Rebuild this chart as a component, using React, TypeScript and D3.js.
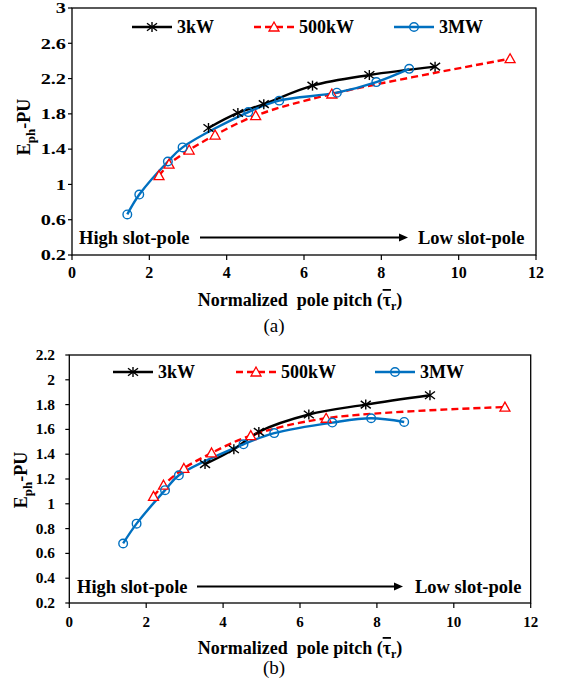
import React from "react";
import * as d3 from "d3";

// Axis ticks
const xTicks = [0, 2, 4, 6, 8, 10, 12];
const yTicksA = [0.2, 0.6, 1, 1.4, 1.8, 2.2, 2.6, 3];
const yTicksB = [0.2, 0.4, 0.6, 0.8, 1, 1.2, 1.4, 1.6, 1.8, 2, 2.2];

// Series names
const seriesNames = ["3kW", "500kW", "3MW"];

// Panel (a)
const kw3AX = [3.53, 4.29, 4.96, 6.22, 7.69, 9.39];
const kw3AY = [1.64, 1.81, 1.91, 2.12, 2.24, 2.335];
const kw500AX = [2.25, 2.51, 3.03, 3.7, 4.75, 6.72, 11.33];
const kw500AY = [1.1, 1.23, 1.39, 1.56, 1.78, 2.025, 2.425];
const mw3AX = [1.43, 1.74, 2.48, 2.86, 4.56, 5.36, 6.85, 7.87, 8.72];
const mw3AY = [0.66, 0.885, 1.26, 1.42, 1.82, 1.95, 2.04, 2.16, 2.31];

// Panel (b)
const kw3BX = [3.53, 4.28, 4.93, 6.23, 7.71, 9.38];
const kw3BY = [1.32, 1.44, 1.58, 1.72, 1.8, 1.875];
const kw500BX = [2.19, 2.45, 2.98, 3.7, 4.72, 6.68, 11.33];
const kw500BY = [1.06, 1.15, 1.285, 1.41, 1.55, 1.69, 1.78];
const mw3BX = [1.4, 1.75, 2.49, 2.85, 4.53, 5.33, 6.84, 7.85, 8.71];
const mw3BY = [0.68, 0.84, 1.11, 1.23, 1.48, 1.57, 1.655, 1.69, 1.66];

const FONT = "'Liberation Serif', 'Times New Roman', serif";
const BLACK = "#000000";
const RED = "#FF0000";
const BLUE = "#0070C0";

type Pt = [number, number];
const zip = (xs: number[], ys: number[]): Pt[] => xs.map((x, i) => [x, ys[i]]);

function Marker({ kind, x, y }: { kind: string; x: number; y: number }) {
  if (kind === "star") {
    const s = 5;
    return (
      <g stroke={BLACK} strokeWidth={1.4}>
        <line x1={x} y1={y - s} x2={x} y2={y + s} />
        <line x1={x - s} y1={y - s * 0.75} x2={x + s} y2={y + s * 0.75} />
        <line x1={x - s} y1={y + s * 0.75} x2={x + s} y2={y - s * 0.75} />
      </g>
    );
  }
  if (kind === "tri") {
    const s = 5;
    return (
      <path
        d={`M${x},${y - s}L${x + s},${y + s * 0.8}L${x - s},${y + s * 0.8}Z`}
        fill="white"
        stroke={RED}
        strokeWidth={1.3}
      />
    );
  }
  return <circle cx={x} cy={y} r={4.3} fill="none" stroke={BLUE} strokeWidth={1.4} />;
}

type PanelProps = {
  left: number;
  right: number;
  top: number;
  bottom: number;
  yDomain: [number, number];
  yTicks: number[];
  series: Pt[][];
  yTickFont: number;
  yTickStretch: number;
  yTickRight: number;
  xTickFont: number;
  xTickBaseline: number;
  legendY: number;
  legendX: number[];
  yLabelX: number;
  yLabelY: number;
  slotY: number;
  highX: number;
  arrowX: [number, number];
  lowX: number;
  titleX: number;
  titleY: number;
  tag: string;
  tagX: number;
  tagY: number;
};

const styles = [
  { color: BLACK, dash: undefined as string | undefined, marker: "star" },
  { color: RED, dash: "7,4", marker: "tri" },
  { color: BLUE, dash: undefined as string | undefined, marker: "circle" },
];

function Panel(p: PanelProps) {
  const x = d3.scaleLinear().domain([0, 12]).range([p.left, p.right]);
  const y = d3.scaleLinear().domain(p.yDomain).range([p.bottom, p.top]);
  const line = d3
    .line<Pt>()
    .x((d) => x(d[0]))
    .y((d) => y(d[1]))
    .curve(d3.curveCatmullRom.alpha(0.5));
  const fmt = (v: number) => String(+v.toFixed(1));

  return (
    <g>
      {/* plot frame */}
      <rect
        x={p.left}
        y={p.top}
        width={p.right - p.left}
        height={p.bottom - p.top}
        fill="none"
        stroke="#000"
        strokeWidth={1.3}
      />
      {/* y ticks */}
      {p.yTicks.map((t) => (
        <g key={"y" + t}>
          <line x1={p.left - 4} x2={p.left} y1={y(t)} y2={y(t)} stroke="#000" strokeWidth={1.2} />
          <text
            transform={`translate(${p.yTickRight},${y(t) + p.yTickFont * 0.36}) scale(${p.yTickStretch},1)`}
            textAnchor="end"
            fontFamily={FONT}
            fontWeight="bold"
            fontSize={p.yTickFont}
          >
            {fmt(t)}
          </text>
        </g>
      ))}
      {/* x ticks */}
      {xTicks.map((t) => (
        <g key={"x" + t}>
          <line x1={x(t)} x2={x(t)} y1={p.bottom} y2={p.bottom + 5} stroke="#000" strokeWidth={1.2} />
          <text
            x={x(t)}
            y={p.xTickBaseline}
            textAnchor="middle"
            fontFamily={FONT}
            fontWeight="bold"
            fontSize={p.xTickFont}
          >
            {t}
          </text>
        </g>
      ))}
      {/* series */}
      {p.series.map((pts, i) => (
        <path
          key={"s" + i}
          d={line(pts) || ""}
          fill="none"
          stroke={styles[i].color}
          strokeWidth={2.4}
          strokeDasharray={styles[i].dash}
        />
      ))}
      {p.series.map((pts, i) =>
        pts.map((d, j) => <Marker key={`m${i}-${j}`} kind={styles[i].marker} x={x(d[0])} y={y(d[1])} />)
      )}
      {/* legend */}
      {seriesNames.map((name, i) => (
        <g key={"l" + i}>
          <line
            x1={p.legendX[i]}
            x2={p.legendX[i] + 40}
            y1={p.legendY}
            y2={p.legendY}
            stroke={styles[i].color}
            strokeWidth={2.4}
            strokeDasharray={styles[i].dash}
          />
          <Marker kind={styles[i].marker} x={p.legendX[i] + 20} y={p.legendY} />
          <text
            x={p.legendX[i] + 45}
            y={p.legendY + 6}
            fontFamily={FONT}
            fontWeight="bold"
            fontSize={18}
          >
            {name}
          </text>
        </g>
      ))}
      {/* slot-pole annotation */}
      <text x={p.highX} y={p.slotY} fontFamily={FONT} fontWeight="bold" fontSize={18.5}>
        High slot-pole
      </text>
      <line
        x1={p.arrowX[0]}
        x2={p.arrowX[1] - 8}
        y1={p.slotY - 6.5}
        y2={p.slotY - 6.5}
        stroke="#000"
        strokeWidth={2}
      />
      <path
        d={`M${p.arrowX[1]},${p.slotY - 6.5}L${p.arrowX[1] - 9},${p.slotY - 10.5}L${p.arrowX[1] - 9},${p.slotY - 2.5}Z`}
        fill="#000"
      />
      <text x={p.lowX} y={p.slotY} fontFamily={FONT} fontWeight="bold" fontSize={18.5}>
        Low slot-pole
      </text>
      {/* y-axis title */}
      <text
        transform={`translate(${p.yLabelX},${p.yLabelY}) rotate(-90)`}
        textAnchor="middle"
        fontFamily={FONT}
        fontWeight="bold"
        fontSize={18}
      >
        E<tspan fontSize={13} dy={5}>ph</tspan>
        <tspan dy={-5}>-PU</tspan>
      </text>
      {/* x-axis title */}
      <text
        x={p.titleX}
        y={p.titleY}
        textAnchor="middle"
        fontFamily={FONT}
        fontWeight="bold"
        fontSize={18}
        style={{ whiteSpace: "pre" }}
      >
        {"Normalized  pole pitch ("}
        <tspan style={{ textDecoration: "overline" }}>τ</tspan>
        <tspan fontSize={12} dy={4}>r</tspan>
        <tspan dy={-4}>)</tspan>
      </text>
      <text x={p.tagX} y={p.tagY} textAnchor="middle" fontFamily={FONT} fontSize={19}>
        {p.tag}
      </text>
    </g>
  );
}

export default function App() {
  return (
    <svg
      width={562}
      height={685}
      style={{ position: "absolute", left: 0, top: 0, background: "#fff" }}
    >
      <Panel
        left={72}
        right={536}
        top={8}
        bottom={255}
        yDomain={[0.2, 3]}
        yTicks={yTicksA}
        series={[zip(kw3AX, kw3AY), zip(kw500AX, kw500AY), zip(mw3AX, mw3AY)]}
        yTickFont={14.5}
        yTickStretch={1.4}
        yTickRight={66}
        xTickFont={16}
        xTickBaseline={278}
        legendY={27}
        legendX={[132, 254, 394]}
        yLabelX={30}
        yLabelY={127}
        slotY={244}
        highX={79}
        arrowX={[200, 408]}
        lowX={418}
        titleX={300}
        titleY={306}
        tag="(a)"
        tagX={274}
        tagY={332}
      />
      <Panel
        left={69.3}
        right={530.7}
        top={355}
        bottom={603}
        yDomain={[0.2, 2.2]}
        yTicks={yTicksB}
        series={[zip(kw3BX, kw3BY), zip(kw500BX, kw500BY), zip(mw3BX, mw3BY)]}
        yTickFont={14}
        yTickStretch={1.1}
        yTickRight={55}
        xTickFont={15}
        xTickBaseline={627}
        legendY={372}
        legendX={[113, 236, 375]}
        yLabelX={27}
        yLabelY={480}
        slotY={593}
        highX={77}
        arrowX={[197, 403]}
        lowX={415}
        titleX={300}
        titleY={654}
        tag="(b)"
        tagX={274}
        tagY={674}
      />
    </svg>
  );
}
